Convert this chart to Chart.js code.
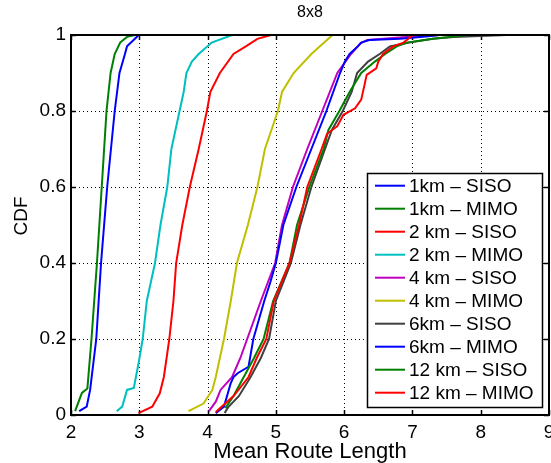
<!DOCTYPE html>
<html>
<head>
<meta charset="utf-8">
<script src="https://cdn.jsdelivr.net/npm/chart.js@4/dist/chart.umd.min.js"></script>
<style>
html,body{margin:0;padding:0;background:#fff;}
canvas{display:block;}
</style>
</head>
<body>
<canvas id="c" width="551" height="463"></canvas>
<script>
// ---- data ----
const title = "8x8";
const xLabel = "Mean Route Length";
const yLabel = "CDF";
const seriesNames = ["1km \u2013 SISO","1km \u2013 MIMO","2 km \u2013 SISO","2 km \u2013 MIMO","4 km \u2013 SISO","4 km \u2013 MIMO","6km \u2013 SISO","6km \u2013 MIMO","12 km \u2013 SISO","12 km \u2013 MIMO"];
const xTicks = [2,3,4,5,6,7,8,9];
const yTicks = [0,0.2,0.4,0.6,0.8,1];

const km1SisoP = [0.01,0.022,0.066,0.2,0.4,0.6,0.8,0.9,0.95,0.97,0.982,0.996,1];
const km1SisoX = [2.12,2.23,2.28,2.37,2.44,2.53,2.64,2.71,2.79,2.82,2.89,2.97,2.99];

const km1MimoP = [0.01,0.058,0.07,0.2,0.4,0.6,0.8,0.9,0.95,0.98,0.995,1];
const km1MimoX = [2.06,2.16,2.24,2.30,2.38,2.45,2.52,2.58,2.64,2.72,2.82,2.94];

const km2SisoP = [0.005,0.022,0.057,0.1,0.2,0.3,0.4,0.5,0.6,0.7,0.8,0.85,0.9,0.95,0.97,0.99,1];
const km2SisoX = [2.99,3.19,3.30,3.36,3.44,3.50,3.54,3.63,3.74,3.87,3.99,4.04,4.18,4.38,4.56,4.73,4.93];

const km2MimoP = [0.01,0.022,0.066,0.071,0.137,0.2,0.3,0.4,0.5,0.6,0.7,0.8,0.85,0.9,0.93,0.95,0.98,1];
const km2MimoX = [2.67,2.75,2.82,2.92,2.99,3.05,3.11,3.23,3.31,3.41,3.47,3.59,3.65,3.69,3.77,3.87,4.06,4.36];

const km4SisoP = [0.01,0.035,0.066,0.1,0.15,0.2,0.25,0.3,0.4,0.5,0.6,0.7,0.8,0.9,0.95,0.978,0.987,0.995,1];
const km4SisoX = [4.02,4.12,4.19,4.36,4.48,4.58,4.68,4.78,4.99,5.09,5.25,5.46,5.68,5.90,6.10,6.24,6.34,6.90,7.39];

const km4MimoP = [0.01,0.03,0.066,0.1,0.2,0.3,0.4,0.5,0.6,0.7,0.8,0.85,0.9,0.95,1];
const km4MimoX = [3.72,3.94,4.07,4.12,4.24,4.34,4.43,4.59,4.73,4.84,5.03,5.09,5.26,5.52,5.83];

const km6SisoP = [0.005,0.02,0.05,0.1,0.15,0.2,0.3,0.4,0.5,0.6,0.7,0.75,0.8,0.85,0.9,0.93,0.95,0.97,0.98,0.99,0.995,1];
const km6SisoX = [4.25,4.30,4.46,4.63,4.78,4.90,5.00,5.22,5.36,5.52,5.72,5.82,5.98,6.11,6.19,6.35,6.52,6.67,6.95,7.30,7.60,8.38];

const km6MimoP = [0.005,0.022,0.084,0.1,0.11,0.127,0.2,0.25,0.3,0.35,0.4,0.5,0.6,0.7,0.8,0.9,0.93,0.95,0.97,0.98,0.987,0.99,0.996,1];
const km6MimoX = [4.12,4.24,4.34,4.38,4.44,4.60,4.67,4.75,4.83,4.92,5.00,5.11,5.30,5.52,5.74,5.94,6.01,6.08,6.20,6.25,6.37,6.82,7.20,7.40];

const km12SisoP = [0.018,0.05,0.1,0.15,0.2,0.3,0.4,0.5,0.6,0.7,0.75,0.8,0.85,0.9,0.93,0.95,0.97,0.98,0.99,1];
const km12SisoX = [4.26,4.38,4.53,4.68,4.82,4.96,5.20,5.31,5.49,5.70,5.77,5.93,6.08,6.25,6.45,6.60,6.77,6.92,7.30,7.82];

const km12MimoP = [0.008,0.05,0.1,0.15,0.2,0.3,0.4,0.5,0.6,0.7,0.74,0.76,0.79,0.807,0.83,0.87,0.895,0.912,0.93,0.95,0.97,0.98,1];
const km12MimoX = [4.12,4.38,4.60,4.72,4.86,4.97,5.20,5.34,5.46,5.67,5.75,5.90,5.99,6.16,6.25,6.30,6.33,6.47,6.50,6.57,6.72,6.87,7.01];

const seriesX = [km1SisoX,km1MimoX,km2SisoX,km2MimoX,km4SisoX,km4MimoX,km6SisoX,km6MimoX,km12SisoX,km12MimoX];
const seriesP = [km1SisoP,km1MimoP,km2SisoP,km2MimoP,km4SisoP,km4MimoP,km6SisoP,km6MimoP,km12SisoP,km12MimoP];
const colors = ["#0000ff","#008000","#ff0000","#00bfbf","#bf00bf","#bfbf00","#404040","#0000ff","#008000","#ff0000"];

const FONT = "'Liberation Sans', Arial, Helvetica, sans-serif";

const datasets = seriesNames.map((name,i)=>({
  label: name,
  data: seriesX[i].map((x,j)=>({x:x, y:seriesP[i][j]})),
  borderColor: colors[i],
  backgroundColor: colors[i],
  borderWidth: 2,
  pointRadius: 0,
  showLine: true,
  tension: 0,
  fill: false,
  order: seriesNames.length - i
}));

const decor = {
  id: 'decor',
  beforeDatasetsDraw(chart){
    const ctx = chart.ctx, a = chart.chartArea;
    const xs = chart.scales.x, ys = chart.scales.y;
    ctx.save();
    // dotted grid
    ctx.strokeStyle = '#000';
    ctx.lineWidth = 1;
    ctx.setLineDash([1,3]);
    xTicks.forEach(v=>{
      if (v===xTicks[0] || v===xTicks[xTicks.length-1]) return;
      const px = Math.round(xs.getPixelForValue(v))+0.5;
      ctx.beginPath(); ctx.moveTo(px,a.top); ctx.lineTo(px,a.bottom); ctx.stroke();
    });
    yTicks.forEach(v=>{
      if (v===yTicks[0] || v===yTicks[yTicks.length-1]) return;
      const py = Math.round(ys.getPixelForValue(v))+0.5;
      ctx.beginPath(); ctx.moveTo(a.left,py); ctx.lineTo(a.right,py); ctx.stroke();
    });
    ctx.setLineDash([]);
    // tick marks
    ctx.lineWidth = 1.5;
    const tl = 5;
    xTicks.forEach(v=>{
      const px = Math.round(xs.getPixelForValue(v))+0.5;
      ctx.beginPath(); ctx.moveTo(px,a.bottom); ctx.lineTo(px,a.bottom-tl);
      ctx.moveTo(px,a.top); ctx.lineTo(px,a.top+tl); ctx.stroke();
    });
    yTicks.forEach(v=>{
      const py = Math.round(ys.getPixelForValue(v))+0.5;
      ctx.beginPath(); ctx.moveTo(a.left,py); ctx.lineTo(a.left+tl,py);
      ctx.moveTo(a.right,py); ctx.lineTo(a.right-tl,py); ctx.stroke();
    });
    ctx.restore();
  },
  afterDatasetsDraw(chart){
    const ctx = chart.ctx, a = chart.chartArea;
    ctx.save();
    // frame
    ctx.strokeStyle = '#000';
    ctx.lineWidth = 2;
    ctx.strokeRect(a.left, a.top, a.right-a.left, a.bottom-a.top);
    // title
    ctx.fillStyle = '#000';
    ctx.font = "16px " + FONT;
    ctx.textAlign = 'center';
    ctx.textBaseline = 'middle';
    ctx.fillText(title, (a.left+a.right)/2, 13);
    // x label
    ctx.font = "22px " + FONT;
    ctx.fillText(xLabel, (a.left+a.right)/2, 452);
    // y label
    ctx.save();
    ctx.translate(22, 216);
    ctx.rotate(-Math.PI/2);
    ctx.font = "19px " + FONT;
    ctx.fillText(yLabel, 0, 0);
    ctx.restore();
    // legend
    const lx = 367.5, ly = 173.5, lw = 175, lh = 234;
    ctx.fillStyle = '#fff';
    ctx.fillRect(lx, ly, lw, lh);
    ctx.lineWidth = 1.5;
    ctx.strokeStyle = '#000';
    ctx.strokeRect(lx, ly, lw, lh);
    ctx.font = "19px " + FONT;
    ctx.textAlign = 'left';
    ctx.textBaseline = 'middle';
    seriesNames.forEach((n,i)=>{
      const y = 185.7 + 23*i;
      ctx.strokeStyle = colors[i];
      ctx.lineWidth = 2;
      ctx.beginPath(); ctx.moveTo(375,y); ctx.lineTo(405,y); ctx.stroke();
      ctx.fillStyle = '#000';
      ctx.fillText(n, 409, y+1);
    });
    ctx.restore();
  }
};

new Chart(document.getElementById('c'), {
  type: 'scatter',
  data: { datasets },
  options: {
    responsive: false,
    devicePixelRatio: 1,
    animation: false,
    layout: { padding: { top: 35, right: 2, left: 0, bottom: 0 } },
    plugins: { legend: {display:false}, title: {display:false}, tooltip: {enabled:false} },
    scales: {
      x: {
        type: 'linear', min: 2, max: 9,
        afterBuildTicks(s){ s.ticks = xTicks.map(v=>({value:v})); },
        afterFit(s){ s.height = 48; s.paddingLeft = 0; s.paddingRight = 0; },
        grid: { display:false, drawTicks:false },
        border: { display:false },
        ticks: { color:'#000', font:{ size:19, family: FONT }, padding: 6, maxRotation:0, autoSkip:false }
      },
      y: {
        type: 'linear', min: 0, max: 1,
        afterBuildTicks(s){ s.ticks = yTicks.map(v=>({value:v})); },
        afterFit(s){ s.width = 71; s.paddingTop = 0; s.paddingBottom = 0; },
        grid: { display:false, drawTicks:false },
        border: { display:false },
        ticks: { color:'#000', font:{ size:19, family: FONT }, padding: 5, autoSkip:false,
          callback: v => String(Math.round(v*10)/10) }
      }
    }
  },
  plugins: [decor]
});
</script>
</body>
</html>
